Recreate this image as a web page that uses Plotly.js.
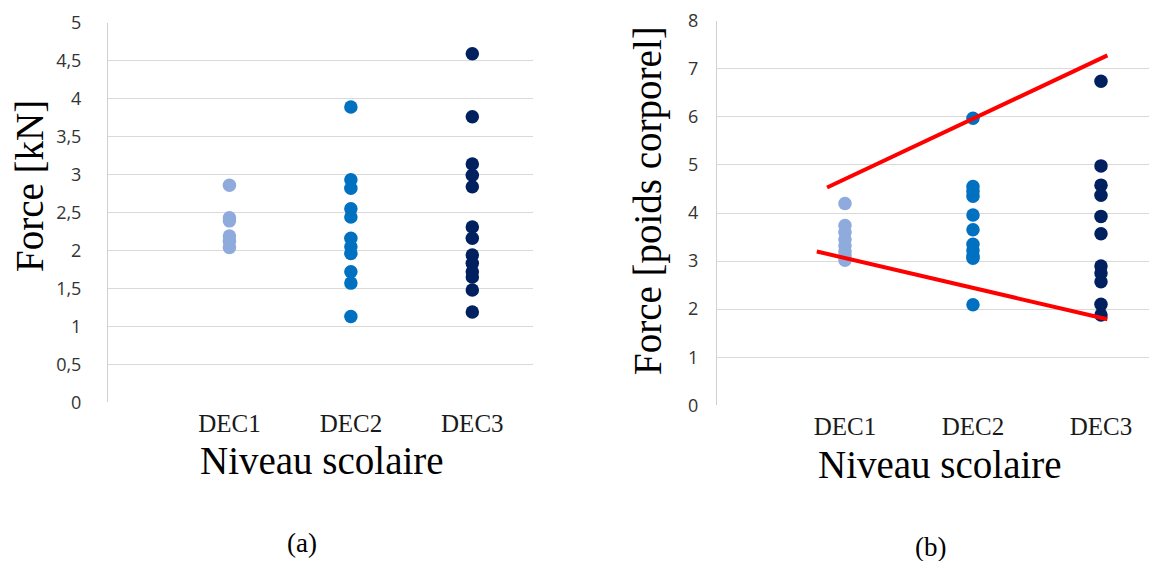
<!DOCTYPE html>
<html>
<head>
<meta charset="utf-8">
<script src="https://cdn.plot.ly/plotly-3.0.1.min.js"></script>
<style>html,body{margin:0;padding:0;background:#fff;}#chart{width:1149px;height:561px;}</style>
</head>
<body>
<div id="chart"></div>
<script>
// Categories
const categories = ["DEC1", "DEC2", "DEC3"];

// (a) Force [kN]
const forceKN_DEC1 = [2.86, 2.43, 2.39, 2.19, 2.12, 2.04];
const forceKN_DEC2 = [3.89, 2.93, 2.82, 2.55, 2.44, 2.16, 2.05, 1.96, 1.72, 1.57, 1.13];
const forceKN_DEC3 = [4.59, 3.76, 3.14, 2.99, 2.84, 2.31, 2.16, 1.94, 1.83, 1.72, 1.65, 1.48, 1.19];

// (b) Force [poids corporel]
const forceBW_DEC1 = [4.2, 3.74, 3.6, 3.45, 3.32, 3.2, 3.1, 3.02];
const forceBW_DEC2 = [5.97, 4.55, 4.45, 4.35, 3.96, 3.65, 3.35, 3.22, 3.1, 3.06, 2.09];
const forceBW_DEC3 = [6.74, 4.98, 4.58, 4.37, 3.93, 3.57, 2.9, 2.75, 2.57, 2.1, 1.88];

// Red envelope lines in (b)
const upperLineX = [0.86, 3.05];
const upperLineY = [4.53, 7.28];
const lowerLineX = [0.78, 3.05];
const lowerLineY = [3.2, 1.79];

// Texts
const yTitleA = "Force [kN]";
const yTitleB = "Force [poids corporel]";
const xTitle = "Niveau scolaire";
const panelLabels = ["(a)", "(b)"];

const colors = {DEC1: "#8FAADC", DEC2: "#0070C0", DEC3: "#002060"};

function pos(cat, arr) { const i = categories.indexOf(cat) + 1; return arr.map(() => i); }

const setA = {DEC1: forceKN_DEC1, DEC2: forceKN_DEC2, DEC3: forceKN_DEC3};
const setB = {DEC1: forceBW_DEC1, DEC2: forceBW_DEC2, DEC3: forceBW_DEC3};

const traces = [];
categories.forEach(c => {
  traces.push({type: "scatter", mode: "markers", x: pos(c, setA[c]), y: setA[c], xaxis: "x", yaxis: "y",
    marker: {color: colors[c], size: 13.5}, name: c, showlegend: false});
});
categories.forEach(c => {
  traces.push({type: "scatter", mode: "markers", x: pos(c, setB[c]), y: setB[c], xaxis: "x2", yaxis: "y2",
    marker: {color: colors[c], size: 13.5}, name: c, showlegend: false});
});
traces.push({type: "scatter", mode: "lines", x: upperLineX, y: upperLineY, xaxis: "x2", yaxis: "y2",
  line: {color: "#FF0000", width: 4}, showlegend: false});
traces.push({type: "scatter", mode: "lines", x: lowerLineX, y: lowerLineY, xaxis: "x2", yaxis: "y2",
  line: {color: "#FF0000", width: 4}, showlegend: false});

const serif = "Liberation Serif, Times New Roman, serif";
const tickFont = {family: "Open Sans, Liberation Sans, sans-serif", size: 18, color: "#333333"};
const catFont = {family: serif, size: 25, color: "#1a1a1a"};
const titleFont = {family: serif, size: 39, color: "#000"};

const xBase = {
  tickvals: [1, 2, 3], ticktext: categories, tickfont: catFont,
  showgrid: false, zeroline: false, showline: false, ticks: "", ticklabelstandoff: 4,
  automargin: false
};
const yBase = {
  showgrid: true, gridcolor: "#D9D9D9", gridwidth: 1, zeroline: false,
  showline: true, linecolor: "#D0D0D0", linewidth: 1, ticks: "",
  tickfont: tickFont, automargin: false
};

function ann(text, x, y, size, angle) {
  return {text: text, xref: "paper", yref: "paper", x: x / 1149, y: 1 - y / 561,
    xanchor: "center", yanchor: "middle", showarrow: false, textangle: angle || 0,
    font: {family: serif, size: size, color: "#000"}};
}

const layout = {
  width: 1149, height: 561,
  margin: {l: 0, r: 0, t: 0, b: 0},
  paper_bgcolor: "#fff", plot_bgcolor: "#fff",
  separators: ", ",
  showlegend: false,
  xaxis: Object.assign({}, xBase, {domain: [0.094, 0.4639], range: [0, 3.5], anchor: "y"}),
  yaxis: Object.assign({}, yBase, {domain: [0.2829, 0.9595], range: [0, 5], dtick: 0.5, tick0: 0,
    ticklabelstandoff: 22, anchor: "x"}),
  xaxis2: Object.assign({}, xBase, {domain: [0.624, 1], range: [0, 3.375], anchor: "y2"}),
  yaxis2: Object.assign({}, yBase, {domain: [0.2775, 0.9631], range: [0, 8], dtick: 1, tick0: 0,
    ticklabelstandoff: 14, anchor: "x2"}),
  annotations: [
    ann(yTitleA, 29, 186, 39, -90),
    ann(yTitleB, 648, 201, 39, -90),
    ann(xTitle, 322, 460, 39),
    ann(xTitle, 940, 464, 39),
    ann(panelLabels[0], 302, 543, 27),
    ann(panelLabels[1], 930, 547, 27)
  ]
};

Plotly.newPlot("chart", traces, layout, {displayModeBar: false, staticPlot: true});
</script>
</body>
</html>
